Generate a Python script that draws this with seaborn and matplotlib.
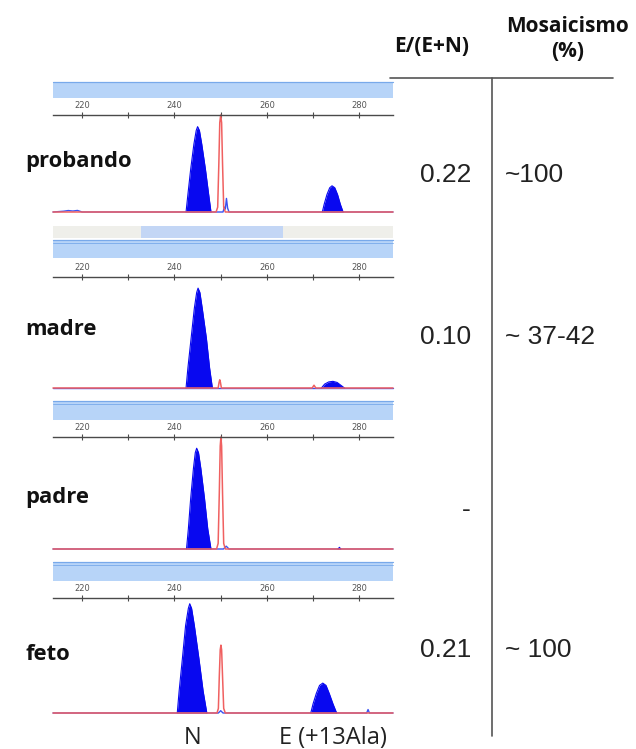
import matplotlib
matplotlib.use("Agg")
import matplotlib.pyplot as plt
from matplotlib.patches import Rectangle
from matplotlib.lines import Line2D
import pandas as pd
import seaborn as sns

# ---------------- data ----------------
samples = ["probando", "madre", "padre", "feto"]
ratio_labels = ["0.22", "0.10", "-", "0.21"]
mosaic_labels = ["~100", "~ 37-42", "", "~ 100"]
header_ratio = "E/(E+N)"
header_mosaic = "Mosaicismo\n(%)"
tick_major = [220, 240, 260, 280]
tick_minor = [230, 250, 270]
peak_labels = ["N", "E (+13Ala)"]
peak_label_bp = [244.0, 274.3]
bp_range = [213.7, 287.3]

# filled (called) blue peaks: bp and relative height (% of panel)
probando_N_bp = [242.5, 242.9, 243.5, 244.2, 244.7, 245.0, 245.4, 245.9, 246.7, 247.4, 247.9]
probando_N_rfu = [0, 18, 44, 70, 84, 88, 84, 70, 44, 18, 0]
probando_E_bp = [272.0, 272.4, 273.0, 273.6, 274.1, 274.7, 275.3, 275.9, 276.5]
probando_E_rfu = [0, 8, 18, 25, 27, 25, 18, 8, 0]
madre_N_bp = [242.5, 242.9, 243.6, 244.3, 244.8, 245.1, 245.5, 246.0, 246.9, 247.6, 248.2]
madre_N_rfu = [0, 18, 45, 72, 86, 90, 86, 72, 45, 18, 0]
madre_E_bp = [271.8, 272.5, 273.4, 274.3, 275.2, 276.0, 276.8]
madre_E_rfu = [0, 3.5, 5.5, 6, 5, 2.5, 0]
padre_N_bp = [242.6, 243.0, 243.5, 244.1, 244.5, 244.8, 245.2, 245.7, 246.5, 247.2, 247.9]
padre_N_rfu = [0, 18, 45, 72, 86, 90, 86, 72, 45, 18, 0]
padre_E_bp = [275.4, 275.7, 276.0]
padre_E_rfu = [0, 1.5, 0]
feto_N_bp = [240.6, 241.0, 241.7, 242.4, 243.0, 243.3, 243.7, 244.3, 245.3, 246.2, 247.0]
feto_N_rfu = [0, 19, 47, 76, 91, 95, 91, 76, 47, 19, 0]
feto_E_bp = [269.5, 270.0, 270.7, 271.4, 272.1, 272.8, 273.5, 274.3, 275.1]
feto_E_rfu = [0, 8, 17, 24, 26, 24, 17, 8, 0]

# blue (unfilled) trace
probando_blue_bp = [213.7, 216.0, 217.0, 218.0, 219.0, 220.0, 250.5, 250.8, 251.0, 251.25, 251.5, 251.8, 287.3]
probando_blue_rfu = [0, 0.8, 1.5, 1.0, 1.6, 0, 0, 5, 3, 14, 4, 0, 0]
madre_blue_bp = [213.7, 287.3]
madre_blue_rfu = [0, 0]
padre_blue_bp = [213.7, 250.6, 251.2, 251.8, 287.3]
padre_blue_rfu = [0, 0, 2.5, 0, 0]
feto_blue_bp = [213.7, 249.5, 250.0, 250.5, 281.6, 281.9, 282.2, 287.3]
feto_blue_rfu = [0, 0, 2, 0, 0, 3, 0, 0]

# red (size standard) trace
probando_red_bp = [213.7, 249.0, 249.35, 249.6, 249.8, 250.0, 250.2, 250.4, 250.65, 251.0, 287.3]
probando_red_rfu = [0, 0, 5, 50, 92, 100, 92, 50, 5, 0, 0]
madre_red_bp = [213.7, 249.45, 249.65, 249.8, 249.95, 250.15, 269.8, 270.2, 270.6, 287.3]
madre_red_rfu = [0, 0, 5, 7.4, 5, 0, 0, 2.5, 0, 0]
padre_red_bp = [213.7, 249.1, 249.45, 249.7, 249.9, 250.05, 250.2, 250.4, 250.65, 251.0, 287.3]
padre_red_rfu = [0, 0, 5, 50, 92, 100, 92, 50, 5, 0, 0]
feto_red_bp = [213.7, 249.2, 249.5, 249.7, 249.9, 250.05, 250.2, 250.4, 250.65, 251.0, 287.3]
feto_red_rfu = [0, 0, 4, 32, 55, 59, 55, 32, 4, 0, 0]

filled = {
    "probando": [(probando_N_bp, probando_N_rfu), (probando_E_bp, probando_E_rfu)],
    "madre": [(madre_N_bp, madre_N_rfu), (madre_E_bp, madre_E_rfu)],
    "padre": [(padre_N_bp, padre_N_rfu), (padre_E_bp, padre_E_rfu)],
    "feto": [(feto_N_bp, feto_N_rfu), (feto_E_bp, feto_E_rfu)],
}
blue_traces = {
    "probando": (probando_blue_bp, probando_blue_rfu),
    "madre": (madre_blue_bp, madre_blue_rfu),
    "padre": (padre_blue_bp, padre_blue_rfu),
    "feto": (feto_blue_bp, feto_blue_rfu),
}
red_traces = {
    "probando": (probando_red_bp, probando_red_rfu),
    "madre": (madre_red_bp, madre_red_rfu),
    "padre": (padre_red_bp, padre_red_rfu),
    "feto": (feto_red_bp, feto_red_rfu),
}

# ---------------- layout (pixels) ----------------
W, H = 636, 749
axis_y = [115, 277, 437, 598]
base_y = [212, 388, 549, 713]
band_top = [82, 240, 401, 562]
band_bot = [98, 258, 420, 581]
label_y = [162, 330, 498, 655]
value_y = [175, 337, 510, 650]
panel_x0, panel_x1 = 53, 393

sns.set_theme(style="white")
plt.rcParams["font.family"] = ["Open Sans", "DejaVu Sans"]

fig = plt.figure(figsize=(W / 100, H / 100), dpi=100)
fig.patch.set_facecolor("white")


def fx(px):
    return px / W


def fy(py):
    return 1 - py / H


BLUE = "#0808f0"
BLUE_LINE = "#3a52f2"
RED = "#f06060"
BAND = "#b7d4f8"
BAND_EDGE = "#78a9ea"
AXIS_COL = "#4a4a4a"

for i, s in enumerate(samples):
    pad_px = 5
    hpx = base_y[i] - axis_y[i]
    ax = fig.add_axes([fx(panel_x0), fy(base_y[i] + pad_px), fx(panel_x1) - fx(panel_x0),
                       (hpx + pad_px) / H])
    ax.set_xlim(*bp_range)
    ax.set_ylim(-pad_px * 100 / hpx, 100)
    ax.set_facecolor("none")

    bx, by = blue_traces[s]
    sns.lineplot(x=bx, y=by, ax=ax, color=BLUE_LINE, lw=1.0, sort=False, estimator=None)
    for px_, py_ in filled[s]:
        df = pd.DataFrame({"bp": px_, "rfu": py_})
        sns.lineplot(data=df, x="bp", y="rfu", ax=ax, color=BLUE, lw=0.8, sort=False, estimator=None)
        ax.fill_between(df["bp"], 0, df["rfu"], color=BLUE, lw=0)
    rx, ry = red_traces[s]
    sns.lineplot(x=rx, y=ry, ax=ax, color=RED, lw=1.1, sort=False, estimator=None)
    for ln in ax.lines:
        ln.set_clip_on(False)

    for sp in ["left", "right", "bottom"]:
        ax.spines[sp].set_visible(False)
    ax.spines["top"].set_color(AXIS_COL)
    ax.spines["top"].set_linewidth(1.0)
    ax.set_yticks([])
    ax.xaxis.set_ticks_position("top")
    ax.set_xticks(tick_major)
    ax.set_xticks(tick_minor, minor=True)
    ax.set_xticklabels([str(t) for t in tick_major])
    ax.tick_params(axis="x", which="both", direction="inout", length=4, width=0.8,
                   color=AXIS_COL, top=True, bottom=False, labeltop=True, labelbottom=False)
    ax.tick_params(axis="x", which="major", labelsize=6, labelcolor="#555555", pad=1.5)
    for lab in ax.get_xticklabels():
        lab.set_family(["DejaVu Sans"])
    ax.set_xlabel("")
    ax.set_ylabel("")

    # blue header band
    fig.add_artist(Rectangle((fx(panel_x0), fy(band_bot[i])), fx(panel_x1) - fx(panel_x0),
                             (band_bot[i] - band_top[i]) / H, transform=fig.transFigure,
                             facecolor=BAND, edgecolor="none"))
    fig.add_artist(Line2D([fx(panel_x0), fx(panel_x1)], [fy(band_top[i]), fy(band_top[i])],
                          transform=fig.transFigure, color=BAND_EDGE, lw=0.9))
    if i > 0:
        fig.add_artist(Line2D([fx(panel_x0), fx(panel_x1)], [fy(band_top[i] + 3), fy(band_top[i] + 3)],
                              transform=fig.transFigure, color=BAND_EDGE, lw=0.6))

    # sample label
    fig.text(fx(25), fy(label_y[i]), s, ha="left", va="center", fontsize=15.8,
             fontweight="bold", color="#111111")
    # table values
    fig.text(fx(471), fy(value_y[i]), ratio_labels[i], ha="right", va="center", fontsize=19,
             family=["Liberation Sans", "DejaVu Sans"], color="#222222")
    if mosaic_labels[i]:
        fig.text(fx(505), fy(value_y[i]), mosaic_labels[i], ha="left", va="center", fontsize=19,
                 family=["Liberation Sans", "DejaVu Sans"], color="#222222")

    if s == "feto":
        for lab, bpv in zip(peak_labels, peak_label_bp):
            ax.annotate(lab, xy=(bpv, 0), xycoords="data", xytext=(0, -25),
                        textcoords="offset pixels", ha="center", va="center",
                        fontsize=17, color="#222222", annotation_clip=False)

# scrollbar strip above madre panel
fig.add_artist(Rectangle((fx(panel_x0), fy(238)), fx(panel_x1) - fx(panel_x0), 12 / H,
                         transform=fig.transFigure, facecolor="#efefea", edgecolor="none"))
fig.add_artist(Rectangle((fx(141), fy(238)), fx(283) - fx(141), 12 / H,
                         transform=fig.transFigure, facecolor="#c3d6f5", edgecolor="none"))

# table headers and lines
fig.text(fx(432), fy(46), header_ratio, ha="center", va="center", fontsize=15,
         fontweight="bold", color="#111111")
fig.text(fx(568), fy(39), header_mosaic, ha="center", va="center", fontsize=15,
         fontweight="bold", color="#111111", linespacing=1.2)
fig.add_artist(Line2D([fx(390), fx(613)], [fy(78), fy(78)], transform=fig.transFigure,
                      color="#555555", lw=1.2))
fig.add_artist(Line2D([fx(492), fx(492)], [fy(78), fy(736)], transform=fig.transFigure,
                      color="#555555", lw=1.2))

fig.savefig("out.png", dpi=100, facecolor="white")
